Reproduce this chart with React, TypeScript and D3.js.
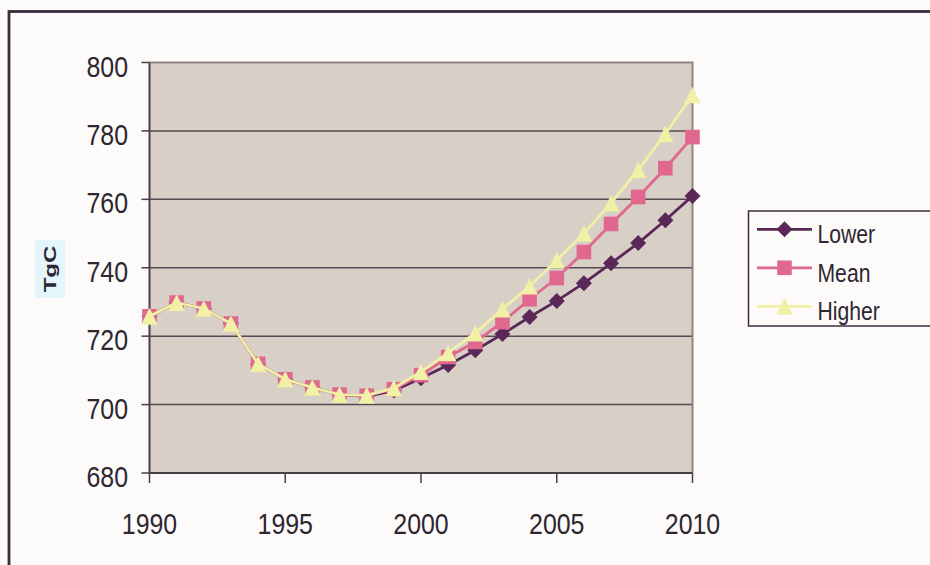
import React from "react";
import * as d3 from "d3";

const years = d3.range(1990, 2011);
const lowerValues = [725.8, 729.8, 728.1, 723.7, 711.9, 707.4, 705.0, 702.9, 702.4, 704.1, 707.7, 711.6, 715.9, 720.6, 725.6, 730.3, 735.5, 741.3, 747.2, 753.9, 761.0];
const meanValues = [725.8, 729.8, 728.1, 723.7, 711.9, 707.4, 705.0, 702.9, 702.6, 704.5, 708.6, 713.9, 718.3, 724.1, 730.8, 737.0, 744.6, 752.8, 760.7, 769.1, 778.2];
const higherValues = [725.8, 729.8, 728.1, 723.7, 711.9, 707.4, 705.0, 702.9, 702.7, 704.8, 709.6, 715.1, 720.9, 727.9, 734.6, 742.2, 750.1, 758.9, 768.6, 779.1, 790.5];
const yTicks = [680, 700, 720, 740, 760, 780, 800];
const xTicks = [1990, 1995, 2000, 2005, 2010];
const seriesNames = ["Lower", "Mean", "Higher"];
const seriesColors = ["#5a2858", "#e0688f", "#f0f0a6"];
const yLabel = "TgC";

const W = 930;
const H = 565;
const plot = { left: 149.5, right: 692.5, top: 62.5, bottom: 473 };

function Marker({ kind, x, y, color }: { kind: string; x: number; y: number; color: string }) {
  if (kind === "Lower") {
    const r = 8;
    return <path d={`M${x},${y - r}L${x + r},${y}L${x},${y + r}L${x - r},${y}Z`} fill={color} />;
  }
  if (kind === "Mean") {
    const s = 7.3;
    return <rect x={x - s} y={y - s} width={2 * s} height={2 * s} fill={color} />;
  }
  const h = 8.3;
  return <path d={`M${x},${y - h}L${x + h},${y + h}L${x - h},${y + h}Z`} fill={color} />;
}

export default function App() {
  const x = d3.scaleLinear().domain([1990, 2010]).range([plot.left, plot.right]);
  const y = d3.scaleLinear().domain([680, 800]).range([plot.bottom, plot.top]);
  const series = [lowerValues, meanValues, higherValues];
  const line = d3
    .line<number>()
    .x((_, i) => x(years[i]))
    .y((d) => y(d));

  const axisColor = "#4a3e48";
  const textColor = "#2e2630";
  const sx = 0.86;

  return (
    <svg
      width={W}
      height={H}
      style={{ position: "absolute", left: 0, top: 0, background: "#fcfbf9" }}
      fontFamily="Liberation Sans, Arial, sans-serif"
    >
      <rect x={0} y={0} width={W} height={H} fill="#fcfbf9" />
      {/* outer frame */}
      <rect x={9} y={11.5} width={W + 20} height={H + 20} fill="none" stroke="#3a2d3e" strokeWidth={2.8} />

      {/* plot background */}
      <rect x={plot.left} y={plot.top} width={plot.right - plot.left} height={plot.bottom - plot.top} fill="#d8cfc6" />

      {/* gridlines */}
      {yTicks
        .filter((t) => t !== 680 && t !== 800)
        .map((t) => (
          <line key={t} x1={plot.left} x2={plot.right} y1={y(t)} y2={y(t)} stroke="#564a52" strokeWidth={1.5} />
        ))}

      {/* plot border top/right */}
      <path
        d={`M${plot.left},${plot.top}H${plot.right}V${plot.bottom}`}
        fill="none"
        stroke="#8e8581"
        strokeWidth={2}
      />

      {/* axes */}
      <line x1={plot.left} x2={plot.left} y1={plot.top} y2={plot.bottom} stroke={axisColor} strokeWidth={2} />
      <line x1={plot.left} x2={plot.right} y1={plot.bottom} y2={plot.bottom} stroke={axisColor} strokeWidth={2} />

      {/* y ticks and labels */}
      {yTicks.map((t) => (
        <g key={t}>
          <line x1={plot.left - 8} x2={plot.left} y1={y(t)} y2={y(t)} stroke={axisColor} strokeWidth={1.5} />
          <text
            transform={`translate(128,${y(t) + 14}) scale(${sx},1)`}
            textAnchor="end"
            fontSize={29}
            fill={textColor}
          >
            {t}
          </text>
        </g>
      ))}

      {/* x ticks and labels */}
      {xTicks.map((t) => (
        <g key={t}>
          <line x1={x(t)} x2={x(t)} y1={plot.bottom} y2={plot.bottom + 10} stroke={axisColor} strokeWidth={1.5} />
          <text
            transform={`translate(${x(t)},534) scale(${sx},1)`}
            textAnchor="middle"
            fontSize={29}
            fill={textColor}
          >
            {t}
          </text>
        </g>
      ))}

      {/* y axis title */}
      <rect x={35} y={240} width={30} height={58} fill="#e4f5fc" />
      <text
        transform={`translate(56,269) rotate(-90) scale(1.5,1)`}
        textAnchor="middle"
        fontSize={16}
        fontWeight="bold"
        fill={textColor}
      >
        {yLabel}
      </text>

      {/* series */}
      {series.map((vals, si) => (
        <g key={si}>
          <path d={line(vals) || ""} fill="none" stroke={seriesColors[si]} strokeWidth={2.8} />
          {vals.map((v, i) => (
            <Marker key={i} kind={seriesNames[si]} x={x(years[i])} y={y(v)} color={seriesColors[si]} />
          ))}
        </g>
      ))}

      {/* legend */}
      <rect x={748.5} y={211} width={200} height={115} fill="#fcfbf9" stroke="#3a2d3e" strokeWidth={1.5} />
      {seriesNames.map((name, i) => {
        const ly = 229.3 + i * 38.5;
        return (
          <g key={name}>
            <line x1={757} x2={812} y1={ly} y2={ly} stroke={seriesColors[i]} strokeWidth={2.8} />
            <Marker kind={name} x={784.5} y={ly} color={seriesColors[i]} />
            <text
              transform={`translate(817.5,${ly + 14}) scale(0.83,1)`}
              fontSize={25.5}
              fill={textColor}
            >
              {name}
            </text>
          </g>
        );
      })}
    </svg>
  );
}
